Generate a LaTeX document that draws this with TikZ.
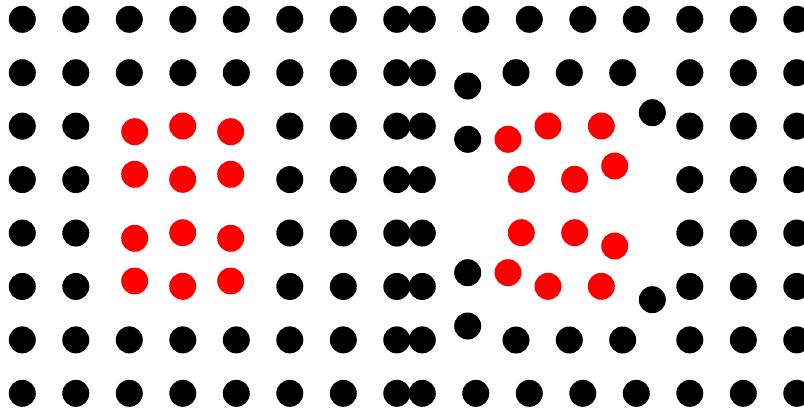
\documentclass[tikz,border=0pt]{standalone}
\begin{document}
\begin{tikzpicture}[x=1pt,y=-1pt,
  bdot/.style={fill=black},
  rdot/.style={fill=red}]
\useasboundingbox (0,0) rectangle (804,413);
\clip (0,0) rectangle (804,413);
% left grid
\foreach \j in {0,1,6,7}
  \foreach \k in {0,...,7}
    \fill[bdot] ({22.3+53.5*\k},{19.3+53.43*\j}) circle[radius=13.5pt];
\foreach \j in {2,...,5}
  \foreach \k in {0,1,5,6,7}
    \fill[bdot] ({22.3+53.5*\k},{19.3+53.43*\j}) circle[radius=13.5pt];
\foreach \p in {(134.7,131.7),(182.7,126),(230.7,131.7),
                (134.7,174.3),(182.7,179.3),(230.7,174.3),
                (134.7,238.3),(182.7,232.7),(230.7,238.3),
                (134.7,281),(182.7,286.3),(230.7,281)}
  \fill[rdot] \p circle[radius=13.5pt];
% right grid
\foreach \j in {0,7}
  \foreach \k in {0,...,7}
    \fill[bdot] ({422.3+53.5*\k},{19.3+53.43*\j}) circle[radius=13.5pt];
\foreach \j in {1,...,6}
  \foreach \k in {0,5,6,7}
    \fill[bdot] ({422.3+53.5*\k},{19.3+53.43*\j}) circle[radius=13.5pt];
\foreach \p in {(467.7,86),(516,72.7),(569.3,72.7),(622.7,72.7),
                (467.7,139.3),(652.3,112.7),
                (467.7,272.7),(652.3,299.7),
                (467.7,326),(516,340),(569.3,340),(622.7,340)}
  \fill[bdot] \p circle[radius=13.5pt];
\foreach \p in {(508,139.3),(548,126),(601.3,126),
                (521.3,179.3),(574.7,179.3),(614.7,166),
                (521.3,232.7),(574.7,232.7),(614.7,246),
                (508,272.7),(548,286.3),(601.3,286.3)}
  \fill[rdot] \p circle[radius=13.5pt];
\end{tikzpicture}
\end{document}
